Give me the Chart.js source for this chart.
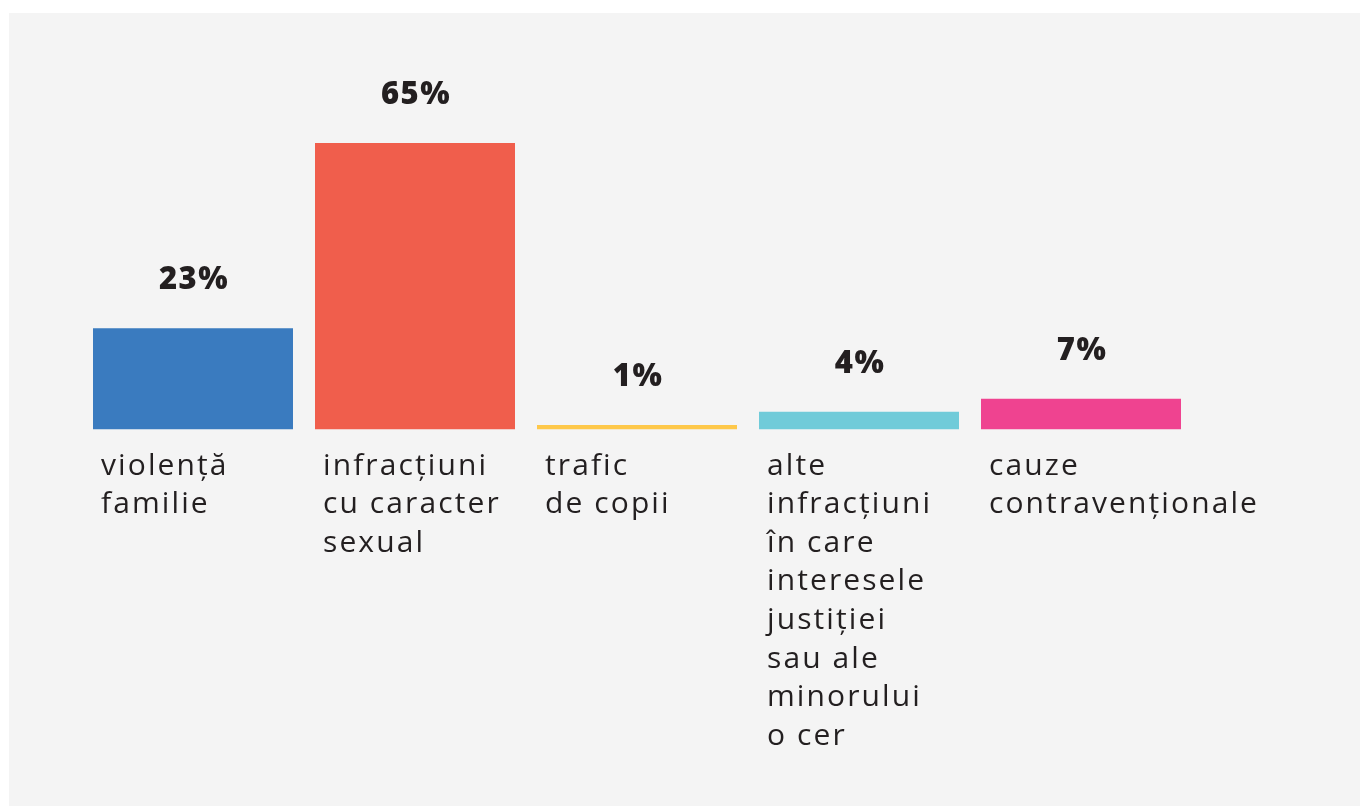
<!DOCTYPE html>
<html>
<head>
<meta charset="utf-8">
<script src="https://cdn.jsdelivr.net/npm/chart.js@4.4.1/dist/chart.umd.min.js"></script>
<style>
  html, body { margin: 0; padding: 0; background: #ffffff; }
  #wrap { position: relative; width: 1360px; height: 806px; overflow: hidden; }
  #panel { position: absolute; left: 9px; top: 13px; right: 0; bottom: 0; background: #f4f4f4; }
  canvas { position: absolute; left: 0; top: 0; }
</style>
</head>
<body>
<div id="wrap">
  <div id="panel"></div>
  <canvas id="c" width="1360" height="806"></canvas>
</div>
<script>
const categories = [
  ["violență", "familie"],
  ["infracțiuni", "cu caracter", "sexual"],
  ["trafic", "de copii"],
  ["alte", "infracțiuni", "în care", "interesele", "justiției", "sau ale", "minorului", "o cer"],
  ["cauze", "contravenționale"]
];
const values = [23, 65, 1, 4, 7];
const barColors = ["#3a7bbf", "#f05e4c", "#fec84a", "#70cbd9", "#ef4390"];
const valueLabels = ["23%", "65%", "1%", "4%", "7%"];

const TEXT_COLOR = "#231f20";
const LABEL_FONT = '400 30px "Open Sans", sans-serif';
const VALUE_FONT = '800 31px "Open Sans", sans-serif';

const labelPlugin = {
  id: 'customLabels',
  afterDatasetsDraw(chart) {
    const ctx = chart.ctx;
    const meta = chart.getDatasetMeta(0);
    const bottom = chart.scales.y.getPixelForValue(0);
    ctx.save();
    ctx.fillStyle = TEXT_COLOR;
    meta.data.forEach((bar, i) => {
      const props = bar.getProps(['x', 'y', 'width'], true);
      // value label
      ctx.font = VALUE_FONT;
      ctx.letterSpacing = '1.5px';
      ctx.textAlign = 'center';
      ctx.textBaseline = 'alphabetic';
      ctx.fillText(valueLabels[i], props.x + 1, props.y - 39);
      // category label
      ctx.font = LABEL_FONT;
      ctx.letterSpacing = '2.1px';
      ctx.textAlign = 'left';
      const left = props.x - props.width / 2 + 8;
      categories[i].forEach((line, j) => {
        ctx.fillText(line, left, bottom + 45 + j * 38.6);
      });
    });
    ctx.restore();
  }
};

new Chart(document.getElementById('c'), {
  type: 'bar',
  data: {
    labels: categories,
    datasets: [{
      data: values,
      backgroundColor: barColors,
      borderWidth: 0,
      categoryPercentage: 1.0,
      barPercentage: 200 / 222
    }]
  },
  options: {
    responsive: false,
    animation: false,
    devicePixelRatio: 1,
    layout: { padding: { left: 82, right: 168, top: 121, bottom: 376.5 } },
    scales: {
      x: { display: false, grid: { display: false } },
      y: { display: false, min: 0, max: 70, grid: { display: false } }
    },
    plugins: {
      legend: { display: false },
      tooltip: { enabled: false }
    }
  },
  plugins: [labelPlugin]
});
</script>
</body>
</html>
